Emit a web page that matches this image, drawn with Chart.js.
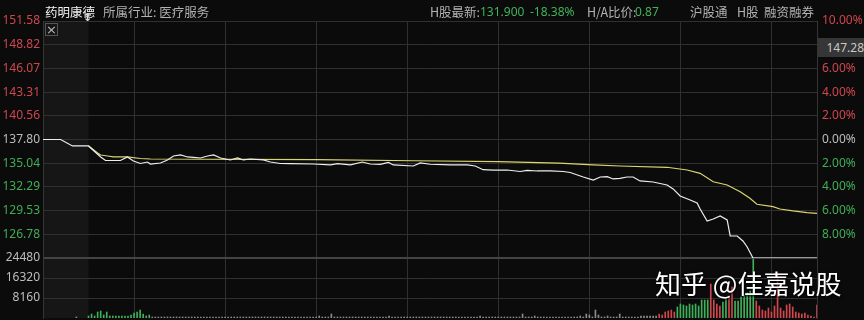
<!DOCTYPE html>
<html>
<head>
<meta charset="utf-8">
<script src="https://cdn.jsdelivr.net/npm/chart.js@4.4.1/dist/chart.umd.min.js"></script>
<style>
  html, body { margin: 0; padding: 0; background: #0b0b0c; }
  #wrap { position: relative; width: 864px; height: 320px; overflow: hidden;
          font-family: "Noto Sans CJK SC", "Noto Sans", sans-serif; }
  #wrap canvas { position: absolute; left: 0; top: 0; }
  .t { position: absolute; top: 3px; font-size: 12.5px; line-height: 18px; color: #b2b2b2; white-space: nowrap; }
  .name { color: #f2f2f2; }
  .g { color: #41b35a; }
  .num { font-family: "Noto Sans", sans-serif; font-size: 12px; }
  #closeBox { position: absolute; left: 45px; top: 23px; width: 11px; height: 11px; border: 1px solid #555;
              color: #bbb; font: 13px/11px "DejaVu Sans", sans-serif; text-align: center; }
  #arrow { position: absolute; left: 83px; top: 12px; color: #ddd; font: bold 11px/12px "DejaVu Sans", sans-serif; }
  #cursorPrice { position: absolute; left: 818px; top: 38px; width: 46px; height: 19px; background: #363636;
                 color: #c8c8c8; font: 12px/19px "Noto Sans", sans-serif; text-align: right; }
  #mark { position: absolute; left: 655px; top: 270px; font-size: 26px; line-height: 26px; color: #fff;
          text-shadow: 1px 1px 2px rgba(0,0,0,0.9), 0 0 3px rgba(0,0,0,0.7); white-space: nowrap; }
</style>
</head>
<body>
<div id="wrap">
  <canvas id="chart" width="864" height="320"></canvas>
  <span class="t name" style="left:45px">药明康德</span>
  <span class="t" style="left:103px">所属行业: 医疗服务</span>
  <span class="t" style="left:430px">H股最新:</span>
  <span class="t g num" style="left:480px">131.900</span>
  <span class="t g num" style="left:530px">-18.38%</span>
  <span class="t" style="left:587px">H/A比价:</span>
  <span class="t g num" style="left:635px">0.87</span>
  <span class="t" style="left:690px">沪股通</span>
  <span class="t" style="left:737px">H股</span>
  <span class="t" style="left:764px">融资融券</span>
  <div id="closeBox">×</div>
  <div id="arrow">↕</div>
  <div id="cursorPrice">147.28</div>
  <div id="mark">知乎 @佳嘉说股</div>
</div>
<script>
(function () {
    "use strict";

    // Axis setup
    const prevClose = 137.80;
    const priceMin = 124.02;
    const priceMax = 151.58;
    const priceTicks = [151.58, 148.82, 146.07, 143.31, 140.56, 137.80, 135.04, 132.29, 129.53, 126.78];
    const percentLabels = ["10.00%", "8.00%", "6.00%", "4.00%", "2.00%", "0.00%", "2.00%", "4.00%", "6.00%", "8.00%"];
    const volumeTicks = [8160, 16320, 24480];
    const timeGrid = [0, 30, 60, 90, 120, 150, 180, 210, 240];
    const firstMinute = -15; // 9:15 call auction
    const lastMinute = 240;  // 15:00

    // Price line (minutes from 9:30)
    const priceMinutes = [-15, -9.2, -5.3, 0, 4, 5.6, 10.5, 12.8, 14.8, 17.1, 19.4, 20.4, 23.7, 26, 28, 30.3,
        32.6, 34.6, 36.9, 39.2, 41.2, 43.5, 46.7, 49.1, 51, 53.3, 57.6, 59.9, 63.2, 66.5, 74.1, 79.7, 82, 86.3,
        90.2, 92.8, 96.1, 98.8, 100.4, 107, 109.3, 112.6, 119.2, 124.8, 127.4, 130, 133.3, 137.9, 142.2, 144.5,
        147.8, 152.1, 156.4, 158.7, 163, 166.3, 168.6, 170.9, 172.8, 175.1, 177.4, 179.4, 181.7, 186, 190.6,
        192.6, 194.9, 198.2, 200.5, 201.5, 203.8, 205.8, 208.1, 210.4, 211.4, 213.7, 215.6, 217, 218.9, 240];
    const prices = [137.80, 137.80, 137.05, 137.05, 135.77, 135.36, 135.36, 135.77, 135.30, 135.01, 135.18, 134.95,
        135.07, 135.42, 135.88, 136.00, 135.77, 135.71, 135.65, 135.88, 136.00, 135.65, 135.42, 135.65, 135.42,
        135.53, 135.42, 135.18, 135.01, 134.99, 134.95, 134.84, 134.99, 134.84, 135.18, 134.95, 134.90, 135.13,
        134.84, 134.72, 135.07, 134.92, 134.84, 134.84, 134.72, 134.29, 134.25, 134.25, 134.08, 134.22, 134.14,
        134.14, 134.08, 133.96, 133.44, 133.09, 133.44, 133.48, 133.21, 133.29, 133.44, 133.44, 132.98, 132.86,
        132.51, 132.05, 131.23, 130.77, 130.42, 129.72, 128.32, 128.56, 128.91, 128.44, 126.58, 126.58, 126.00,
        125.30, 124.02, 124.02];

    // Average price line
    const avgMinutes = [0, 3, 4, 6.3, 8.2, 12.8, 17.1, 20.4, 75, 107, 135, 155, 166.3, 175.1, 190.6, 197.2, 201.5,
        205.8, 210.4, 214.7, 217.9, 220.2, 225.5, 227.8, 232.1, 236.7, 240];
    const avgPrices = [137.05, 136.23, 136.00, 135.88, 135.77, 135.77, 135.59, 135.53, 135.45, 135.33, 135.22,
        135.05, 134.84, 134.72, 134.57, 134.25, 133.87, 132.89, 132.51, 131.73, 130.96, 130.27, 129.99, 129.72,
        129.49, 129.29, 129.22];

    // Volume per minute, 9:30 .. 15:00 (index = minute)
    const auctionMinutes = [-4];
    const auctionVolumes = [410];
    const volumes = [
        820, 1630, 820, 2450, 2860, 1220, 2450, 820, 820, 820,
        820, 820, 820, 820, 1220, 2040, 2450, 3260, 1630, 820,
        1220, 410, 410, 410, 410, 410, 410, 410, 410, 410,
        410, 410, 410, 410, 410, 410, 410, 410, 410, 410,
        410, 410, 410, 410, 410, 410, 410, 410, 410, 410,
        410, 410, 410, 410, 410, 410, 410, 410, 410, 410,
        410, 410, 410, 410, 410, 410, 410, 410, 410, 410,
        410, 410, 410, 410, 410, 410, 820, 410, 410, 410,
        1630, 410, 410, 410, 410, 410, 410, 410, 410, 410,
        410, 410, 410, 410, 410, 410, 410, 410, 410, 820,
        410, 410, 410, 410, 410, 410, 410, 410, 410, 410,
        410, 410, 410, 410, 410, 410, 410, 410, 410, 410,
        410, 410, 410, 410, 410, 410, 410, 410, 410, 820,
        410, 410, 410, 410, 410, 410, 410, 410, 410, 410,
        410, 410, 410, 1630, 410, 410, 410, 820, 410, 410,
        410, 410, 410, 410, 410, 410, 410, 410, 410, 410,
        410, 410, 820, 410, 1630, 1220, 410, 3260, 1220, 410,
        410, 820, 410, 410, 410, 1630, 410, 410, 410, 410,
        410, 410, 820, 820, 820, 820, 820, 820, 1630, 1220,
        2450, 2860, 3260, 2450, 4490, 5710, 5300, 4900, 5710, 5300,
        5710, 4900, 7340, 7340, 7340, 13870, 7340, 5710, 4900, 6530,
        8160, 8980, 12650, 6940, 6940, 8570, 9380, 10200, 11020, 24070,
        6940, 4900, 3260, 2860, 4080, 2450, 4900, 18360, 4080, 2860,
        5300, 5710, 4490, 2450, 2040, 1630, 2040, 1220, 820, 410,
        5300
    ];
    // g = down, r = up, w = flat
    const volumeDirs = [
        "gggggggggg", "gggggggggg", "gwwwwwwwww",
        "wwwwwwwwww", "wwwwwwwwww", "wwwwwwwwww", "wwwwwwwwww", "wwwwwwwwww",
        "wwwwwwwwww", "wwwwwwwwww", "wwwwwwwwww", "wwwwwwwwww", "wwwwwwwwww",
        "wwwwwwwwww", "wwwwwwwwww", "wwwwwwwwww", "wwwwwwwwww", "wwwwwwwwww",
        "wwwwwwwwrr", "rrrrgggggg", "gggggrrrrg", "grrggggggg",
        "rrrrrrrrrr", "rrrrrrrrrr", "r"
    ].join("");

    const RED = "#cf474d";
    const GREEN = "#41ad55";
    const GREY = "#bdbdbd";
    const GRID = "#303030";
    const dirColor = { r: "#d2474c", g: "#3fb157", w: "#8c8c8c" };

    const labelColor = (v) => (v > prevClose + 0.005 ? RED : v < prevClose - 0.005 ? GREEN : GREY);
    const tickFont = { family: "Noto Sans", size: 12 };
    const fixWidth = (w) => (scale) => {
        scale.width = w;
        scale.paddingTop = 0;
        scale.paddingBottom = 0;
    };

    const volData = auctionMinutes.map((m, i) => ({ x: m, y: auctionVolumes[i] }))
        .concat(volumes.map((v, i) => ({ x: i, y: v })));
    const volColors = auctionMinutes.map(() => dirColor.w)
        .concat(volumes.map((v, i) => dirColor[volumeDirs[i]] || dirColor.w));

    // Background and call-auction shading
    const backdrop = {
        id: "backdrop",
        beforeDraw(chart) {
            const { ctx, chartArea, scales } = chart;
            ctx.save();
            ctx.fillStyle = "#0b0b0c";
            ctx.fillRect(0, 0, chart.width, chart.height);
            const x0 = scales.x.getPixelForValue(firstMinute);
            const x1 = scales.x.getPixelForValue(0);
            ctx.fillStyle = "#161617";
            ctx.fillRect(x0, chartArea.top, x1 - x0, chartArea.bottom - chartArea.top);
            ctx.restore();
        },
    };

    new Chart(document.getElementById("chart").getContext("2d"), {
        type: "line",
        data: {
            datasets: [
                {
                    label: "价格",
                    data: priceMinutes.map((m, i) => ({ x: m, y: prices[i] })),
                    xAxisID: "x",
                    yAxisID: "y",
                    borderColor: "#eeeeee",
                    borderWidth: 1.2,
                    pointRadius: 0,
                    tension: 0,
                    order: 0,
                },
                {
                    label: "均价",
                    data: avgMinutes.map((m, i) => ({ x: m, y: avgPrices[i] })),
                    xAxisID: "x",
                    yAxisID: "y",
                    borderColor: "#ddd46e",
                    borderWidth: 1.2,
                    pointRadius: 0,
                    tension: 0,
                    order: 1,
                },
                {
                    type: "bar",
                    label: "成交量",
                    data: volData,
                    xAxisID: "x",
                    yAxisID: "v",
                    backgroundColor: volColors,
                    barThickness: 1,
                    order: 2,
                },
            ],
        },
        options: {
            responsive: false,
            animation: false,
            devicePixelRatio: 1,
            layout: { padding: { top: 21, bottom: 2, left: 0, right: 0 } },
            plugins: { legend: { display: false }, tooltip: { enabled: false } },
            scales: {
                x: {
                    type: "linear",
                    min: firstMinute,
                    max: lastMinute,
                    offset: false,
                    afterBuildTicks: (s) => { s.ticks = timeGrid.map((v) => ({ value: v })); },
                    grid: { color: GRID, drawTicks: false },
                    border: { display: false },
                    ticks: { display: false, autoSkip: false },
                    afterFit: (s) => { s.height = 0; },
                },
                y: {
                    type: "linear",
                    position: "left",
                    stack: "panes",
                    stackWeight: 237,
                    weight: 2,
                    min: priceMin,
                    max: priceMax,
                    afterBuildTicks: (s) => { s.ticks = priceTicks.map((v) => ({ value: v })); },
                    grid: { color: GRID, drawTicks: false },
                    border: { color: "#353535" },
                    ticks: {
                        padding: 3,
                        autoSkip: false,
                        font: tickFont,
                        color: (c) => labelColor(c.tick.value),
                        callback: (v) => v.toFixed(2),
                    },
                    afterFit: fixWidth(43),
                },
                v: {
                    type: "linear",
                    position: "left",
                    stack: "panes",
                    stackWeight: 60,
                    weight: 1,
                    min: 0,
                    max: 24480,
                    afterBuildTicks: (s) => { s.ticks = volumeTicks.map((v) => ({ value: v })); },
                    grid: {
                        color: (c) => (c.tick && c.tick.value === 24480 ? "#444444" : GRID),
                        lineWidth: (c) => (c.tick && c.tick.value === 24480 ? 2 : 1),
                        drawTicks: false,
                    },
                    border: { color: "#353535" },
                    ticks: { padding: 3, autoSkip: false, font: tickFont, color: GREY, callback: (v) => String(v) },
                    afterFit: fixWidth(43),
                },
                yr: {
                    type: "linear",
                    position: "right",
                    stack: "panes",
                    stackWeight: 237,
                    weight: 1,
                    min: priceMin,
                    max: priceMax,
                    afterBuildTicks: (s) => { s.ticks = priceTicks.map((v) => ({ value: v })); },
                    grid: { drawOnChartArea: false, drawTicks: false },
                    border: { color: "#353535" },
                    ticks: {
                        padding: 5,
                        autoSkip: false,
                        font: tickFont,
                        color: (c) => labelColor(c.tick.value),
                        callback: (v, i) => percentLabels[i],
                    },
                    afterFit: fixWidth(47),
                },
                vr: {
                    type: "linear",
                    position: "right",
                    stack: "panes",
                    stackWeight: 60,
                    weight: 2,
                    min: 0,
                    max: 24480,
                    grid: { drawOnChartArea: false, drawTicks: false },
                    border: { color: "#353535" },
                    ticks: { display: false },
                    afterFit: fixWidth(47),
                },
            },
        },
        plugins: [backdrop],
    });
})();
</script>
</body>
</html>
